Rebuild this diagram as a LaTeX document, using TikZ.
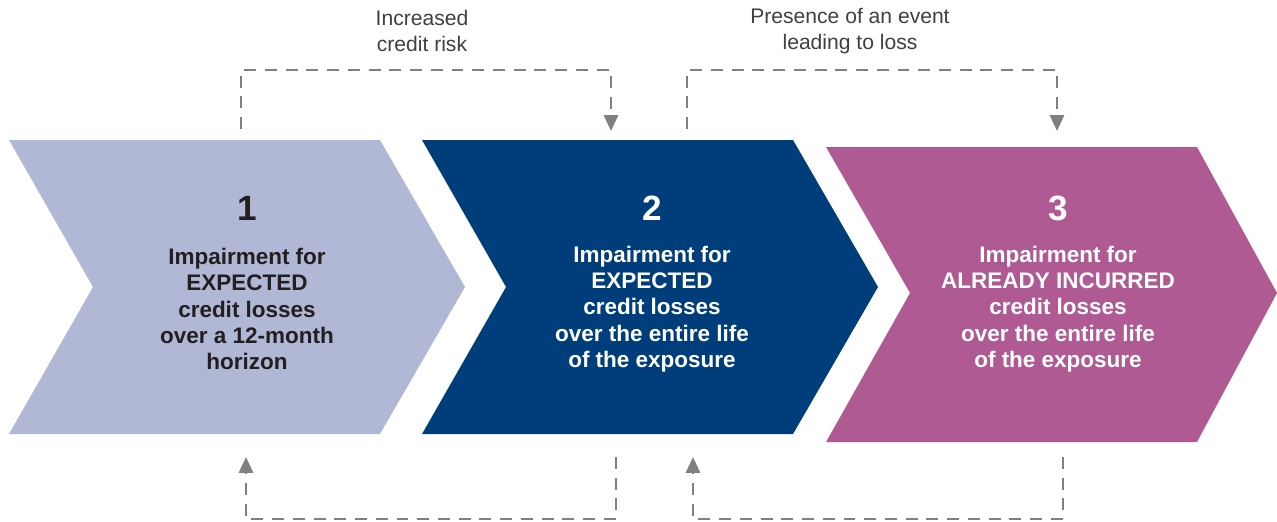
\documentclass[tikz,border=0pt]{standalone}
\usepackage{fontspec}
\setmainfont{Liberation Sans}
\usetikzlibrary{arrows.meta}
\definecolor{cone}{HTML}{B0B8D6}
\definecolor{ctwo}{HTML}{003D7B}
\definecolor{cthree}{HTML}{B05A93}
\definecolor{dashgray}{HTML}{808080}
\definecolor{labelgray}{HTML}{404040}
\definecolor{darktext}{HTML}{231F20}
\begin{document}
\begin{tikzpicture}[x=0.02cm,y=-0.02cm,
 dashline/.style={draw=dashgray,line width=1.5pt,dash pattern=on 6.8pt off 5pt},
 arrowline/.style={dashline,-{Triangle[length=9pt,width=8pt]}},
 numtext/.style={font=\bfseries\fontsize{20}{24}\selectfont},
 bodytext/.style={font=\bfseries\fontsize{12.8}{15}\selectfont,align=center},
 toplabel/.style={font=\fontsize{12}{15.3}\selectfont,align=center,text=labelgray}]
\useasboundingbox (0,0) rectangle (1277,521);
% chevrons
\fill[cone] (9,140) -- (380,140) -- (465,287) -- (380,434) -- (9,434) -- (93,287) -- cycle;
\fill[ctwo] (422,140) -- (793,140) -- (878,287) -- (793,434) -- (422,434) -- (506,287) -- cycle;
\fill[cthree] (826,147) -- (1197,147) -- (1277,293) -- (1197,442) -- (826,442) -- (910,293) -- cycle;
% numbers
\node[numtext,text=darktext] (n1) at (247,208) {1};
\node[numtext,text=white] (n2) at (652,208) {2};
\node[numtext,text=white] (n3) at (1058,208) {3};
% body texts
\node[bodytext,text=darktext] (t1) at (247,309) {Impairment for\\EXPECTED\\credit losses\\over a 12-month\\horizon};
\node[bodytext,text=white] (t2) at (652,309) {Impairment for\\EXPECTED\\credit losses\\over the entire life\\of the exposure};
\node[bodytext,text=white] (t3) at (1058,309) {Impairment for\\ALREADY INCURRED\\credit losses\\over the entire life\\of the exposure};
% top labels
\node[toplabel] (l1) at (422,31) {Increased\\credit risk};
\node[toplabel] (l2) at (850,31) {Presence of an event\\leading to loss};
% connector end points
\coordinate (a1s) at (241,129);
\coordinate (a1e) at (611,131);
\coordinate (a2s) at (687,129);
\coordinate (a2e) at (1057,131);
\coordinate (b1s) at (616,457);
\coordinate (b1e) at (246,457);
\coordinate (b2s) at (1063,457);
\coordinate (b2e) at (693,457);
% connectors
\draw[arrowline] (a1s) -- ++(0,-59) -| (a1e);
\draw[arrowline] (a2s) -- ++(0,-59) -| (a2e);
\draw[arrowline] (b1s) -- ++(0,62) -| (b1e);
\draw[arrowline] (b2s) -- ++(0,62) -| (b2e);
\end{tikzpicture}
\end{document}
